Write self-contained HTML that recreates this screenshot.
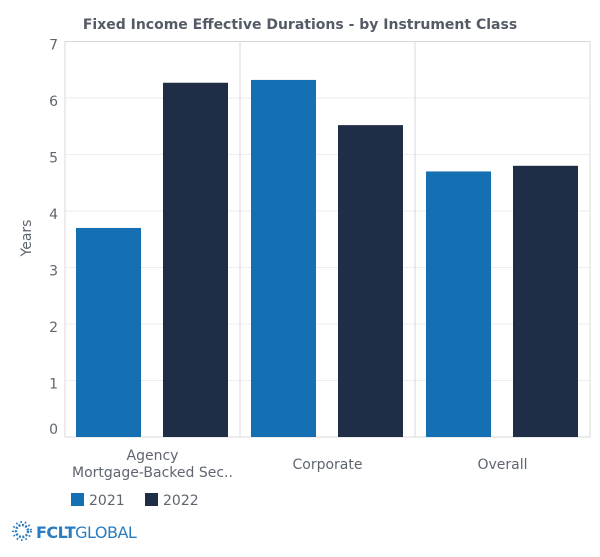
<!DOCTYPE html>
<html><head><meta charset="utf-8"><style>
body{margin:0;background:#fff;font-family:"DejaVu Sans","Liberation Sans",sans-serif;}
svg text{font-family:"DejaVu Sans","Liberation Sans",sans-serif;}
</style></head><body>
<svg id="c" width="600" height="553" xmlns="http://www.w3.org/2000/svg">
<text x="300" y="29" text-anchor="middle" font-size="14" font-weight="bold" fill="#555b66">Fixed Income Effective Durations - by Instrument Class</text>
<text transform="translate(31,238) rotate(-90)" text-anchor="middle" font-size="14" fill="#5f6570">Years</text>
<g id="grid"></g><g id="bars"></g><g id="labels"></g>
<g>
<rect x="71" y="493" width="13" height="13" fill="#1470b3"/>
<text x="89" y="505" font-size="14" fill="#5f6570">2021</text>
<rect x="145" y="493" width="13" height="13" fill="#1f2d47"/>
<text x="163" y="505" font-size="14" fill="#5f6570">2022</text>
</g>
<g>
<circle cx="22" cy="531" r="6" fill="none" stroke="#2a7cc0" stroke-width="2.5" stroke-dasharray="2 1.5"/>
<circle cx="22" cy="531" r="9" fill="none" stroke="#2a7cc0" stroke-width="2" stroke-dasharray="1.5 3"/>
<text x="36" y="538" font-size="16" font-weight="bold" fill="#2a7cc0" letter-spacing="-0.5">FCLT<tspan font-weight="normal">GLOBAL</tspan></text>
</g>
</svg>
<script>
const categories=["Agency|Mortgage-Backed Sec..","Corporate","Overall"];
const series2021=[3.7,6.32,4.7];
const series2022=[6.27,5.52,4.8];
const yTicks=[0,1,2,3,4,5,6,7];
const NS="http://www.w3.org/2000/svg";
const L=65,R=590,T=41.5,B=437,yMax=7;
const y=v=>B-(v/yMax)*(B-T);
const pw=(R-L)/categories.length;
const px=i=>L+i*pw;
function mk(tag,attrs,parent){const e=document.createElementNS(NS,tag);for(const k in attrs)e.setAttribute(k,attrs[k]);document.getElementById(parent).appendChild(e);return e;}
yTicks.forEach(t=>{
  if(t>0&&t<yMax){const g=mk('line',{x1:L,x2:R,y1:y(t),y2:y(t),stroke:'#eeeeee'},'grid');
  
  }
  const tx=mk('text',{x:58,y:y(t)+(t==0?-3:8),'text-anchor':'end','font-size':14,fill:'#5f6570'},'labels');
  tx.textContent=t;
  
  
});
const fr=mk('rect',{x:L,y:T,width:R-L,height:B-T,fill:'none',stroke:'#d8d8d8'},'grid');


categories.forEach((c,i)=>{
  if(i>0){const d=mk('line',{x1:px(i),x2:px(i),y1:T,y2:B,stroke:'#d8d8d8'},'grid');
  
  }
  const b1=mk('rect',{x:px(i)+11,y:y(series2021[i]),width:65,height:B-y(series2021[i]),fill:'#1470b3'},'bars');
  
  
  const b2=mk('rect',{x:px(i)+98,y:y(series2022[i]),width:65,height:B-y(series2022[i]),fill:'#1f2d47'},'bars');
  
  
  const lines=c.split('|');
  lines.forEach((ln,j)=>{
    const base=lines.length>1?460:469;
    const t=mk('text',{x:px(i)+pw/2,y:base+j*17,'text-anchor':'middle','font-size':14,fill:'#5f6570'},'labels');
    t.textContent=ln;
    
    
  });
});
</script>
</body></html>
